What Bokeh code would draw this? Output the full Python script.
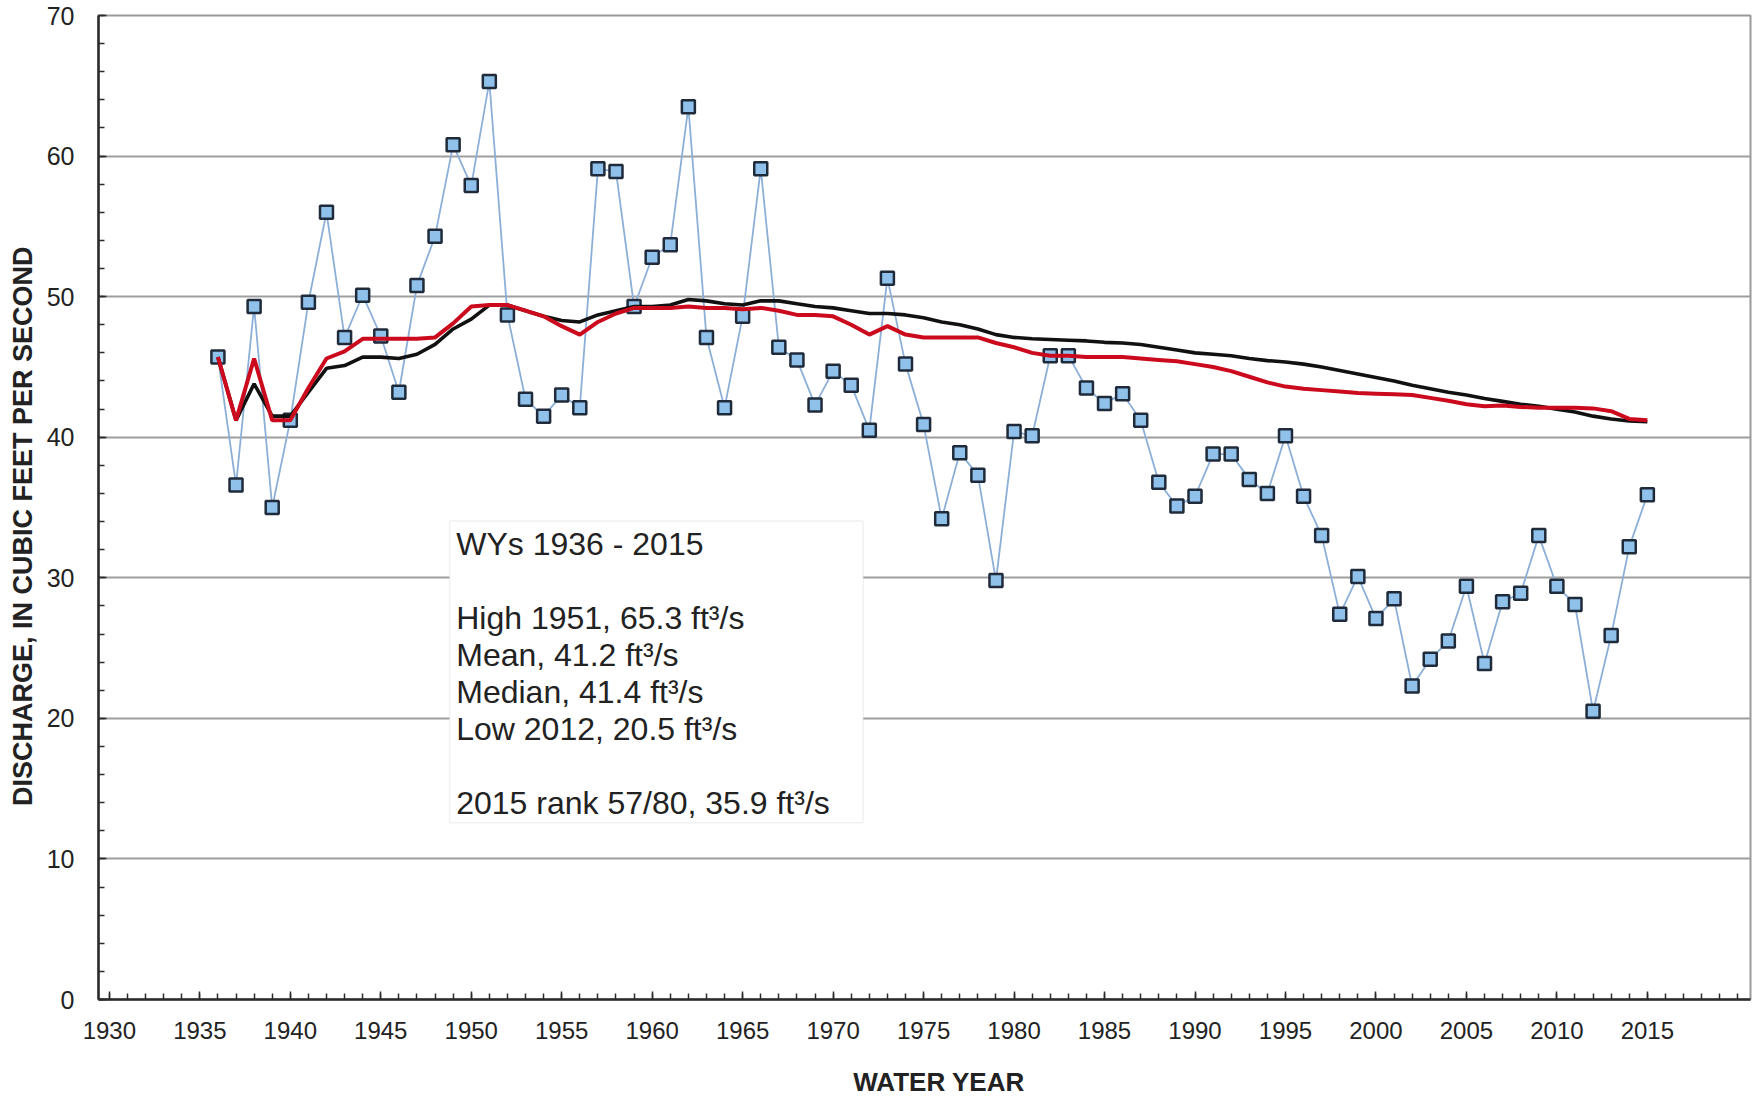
from bokeh.plotting import figure
from bokeh.models import FixedTicker, Label, BoxAnnotation, Range1d, ColumnDataSource
from bokeh.embed import file_html
from bokeh.resources import INLINE

years = list(range(1936, 2016))

discharge = [45.7, 36.6, 49.3, 35.0, 41.2, 49.6, 56.0, 47.1, 50.1, 47.2,
             43.2, 50.8, 54.3, 60.8, 57.9, 65.3, 48.7, 42.7, 41.5, 43.0,
             42.1, 59.1, 58.9, 49.3, 52.8, 53.7, 63.5, 47.1, 42.1, 48.6,
             59.1, 46.4, 45.5, 42.3, 44.7, 43.7, 40.5, 51.3, 45.2, 40.9,
             34.2, 38.9, 37.3, 29.8, 40.4, 40.1, 45.8, 45.8, 43.5, 42.4,
             43.1, 41.2, 36.8, 35.1, 35.8, 38.8, 38.8, 37.0, 36.0, 40.1,
             35.8, 33.0, 27.4, 30.1, 27.1, 28.5, 22.3, 24.2, 25.5, 29.4,
             23.9, 28.3, 28.9, 33.0, 29.4, 28.1, 20.5, 25.9, 32.2, 35.9]

running_mean = [45.7, 41.2, 43.8, 41.5, 41.5, 43.2, 44.9, 45.1, 45.7, 45.7,
                45.6, 45.9, 46.6, 47.7, 48.4, 49.4, 49.4, 49.0, 48.6, 48.3,
                48.2, 48.7, 49.0, 49.3, 49.3, 49.4, 49.8, 49.7, 49.5, 49.4,
                49.7, 49.7, 49.5, 49.3, 49.2, 49.0, 48.8, 48.8, 48.7, 48.5,
                48.2, 48.0, 47.7, 47.3, 47.1, 47.0, 46.95, 46.9, 46.85, 46.75,
                46.7, 46.6, 46.4, 46.2, 46.0, 45.9, 45.8, 45.6, 45.45, 45.35,
                45.2, 45.0, 44.75, 44.5, 44.25, 44.0, 43.7, 43.45, 43.2, 43.0,
                42.75, 42.55, 42.35, 42.2, 42.0, 41.8, 41.5, 41.3, 41.15, 41.1]

running_median = [45.7, 41.2, 45.6, 41.2, 41.2, 43.5, 45.6, 46.1, 47.0, 47.0,
                  47.0, 47.0, 47.1, 48.1, 49.3, 49.4, 49.4, 49.0, 48.6, 47.9,
                  47.3, 48.2, 48.8, 49.2, 49.2, 49.2, 49.3, 49.2, 49.2, 49.1,
                  49.2, 49.0, 48.7, 48.7, 48.6, 48.0, 47.3, 47.9, 47.3, 47.1,
                  47.1, 47.1, 47.1, 46.7, 46.4, 46.0, 45.8, 45.8, 45.7, 45.7,
                  45.7, 45.6, 45.5, 45.4, 45.2, 45.0, 44.7, 44.3, 43.9, 43.6,
                  43.45, 43.35, 43.25, 43.15, 43.1, 43.05, 43.0, 42.8, 42.6, 42.35,
                  42.2, 42.25, 42.15, 42.1, 42.1, 42.1, 42.05, 41.85, 41.3, 41.2]

x_major = [1930, 1935, 1940, 1945, 1950, 1955, 1960, 1965, 1970, 1975,
           1980, 1985, 1990, 1995, 2000, 2005, 2010, 2015]
x_minor = list(range(1930, 2021))
y_major = [0, 10, 20, 30, 40, 50, 60, 70]
y_minor = list(range(0, 71, 2))

info_lines = ["WYs 1936 - 2015",
              "High 1951, 65.3 ft\u00b3/s",
              "Mean, 41.2 ft\u00b3/s",
              "Median, 41.4 ft\u00b3/s",
              "Low 2012, 20.5 ft\u00b3/s",
              "2015 rank 57/80, 35.9 ft\u00b3/s"]
info_y = [32.4, 27.15, 24.5, 21.9, 19.25, 14.0]

FONT = "Liberation Sans"
NB = "\u00a0"

p = figure(width=1760, height=1099,
           x_range=Range1d(1929.4, 2020.7), y_range=Range1d(0, 70),
           output_backend="svg", toolbar_location=None,
           min_border_left=98, min_border_right=10,
           min_border_top=15, min_border_bottom=99)
p.background_fill_color = "white"
p.border_fill_color = "white"
p.outline_line_color = "#9a9a9a"
p.outline_line_width = 2

p.xgrid.visible = False
p.ygrid.ticker = FixedTicker(ticks=y_major)
p.ygrid.grid_line_color = "#9e9e9e"
p.ygrid.grid_line_width = 2

p.xaxis.ticker = FixedTicker(ticks=x_major, minor_ticks=x_minor)
p.yaxis.ticker = FixedTicker(ticks=y_major, minor_ticks=y_minor)
for ax in (p.xaxis, p.yaxis):
    ax.axis_line_color = "#2b2b2b"
    ax.axis_line_width = 2.5
    ax.major_tick_in = 8
    ax.major_tick_out = 0
    ax.minor_tick_in = 6
    ax.minor_tick_out = 0
    ax.major_tick_line_color = "#2b2b2b"
    ax.minor_tick_line_color = "#2b2b2b"
    ax.major_tick_line_width = 1.5
    ax.minor_tick_line_width = 1.5
    ax.major_label_text_font = FONT
    ax.major_label_text_color = "#222222"
    ax.axis_label_text_font = FONT
    ax.axis_label_text_font_style = "bold"
    ax.axis_label_text_color = "#222222"

p.xaxis.major_label_text_font_size = "24px"
p.yaxis.major_label_text_font_size = "25px"
p.xaxis.major_label_standoff = 22
p.yaxis.major_label_standoff = 24
p.xaxis.axis_label = NB * 4 + "WATER YEAR"
p.yaxis.axis_label = "DISCHARGE, IN CUBIC FEET PER SECOND" + NB * 5
p.xaxis.axis_label_text_font_size = "26px"
p.yaxis.axis_label_text_font_size = "27px"
p.xaxis.axis_label_standoff = 25
p.yaxis.axis_label_standoff = 6

src = ColumnDataSource(dict(year=years, q=discharge,
                            mean=running_mean, median=running_median))

p.line("year", "q", source=src, line_color="#8cafd8", line_width=1.8)
p.scatter("year", "q", source=src, marker="square", size=13,
          fill_color="#8fc1ea", line_color="#1f2b3a", line_width=2.5)
p.line("year", "mean", source=src, line_color="#111111", line_width=3.6)
p.line("year", "median", source=src, line_color="#cc0a1e", line_width=4)

box = BoxAnnotation(left=1948.8, right=1971.66, bottom=12.58, top=34.04,
                    fill_color="white", fill_alpha=1.0,
                    line_color="#cfcfcf", line_width=1.5)
p.add_layout(box)
for t, yy in zip(info_lines, info_y):
    p.add_layout(Label(x=1949.17, y=yy, text=t, text_font=FONT,
                       text_font_size="32px", text_color="#222222",
                       text_baseline="alphabetic", text_align="left"))

open("out.html", "w").write(file_html(p, INLINE))
